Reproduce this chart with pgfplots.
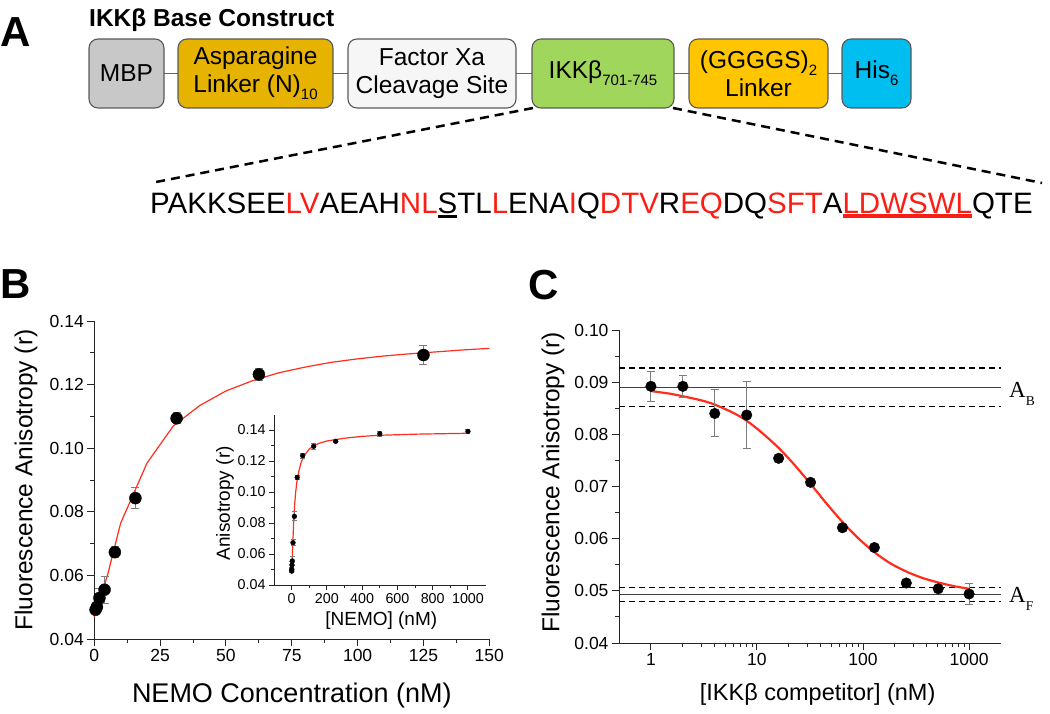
\documentclass[border=0pt]{standalone}
\usepackage{fontspec}
\setmainfont{Liberation Sans}
\newfontfamily\timesfont{Liberation Serif}
\usepackage{pgfplots}
\pgfplotsset{compat=1.18}
\usepackage{pgfplotstable}

\definecolor{fitred}{RGB}{255,45,30}
\definecolor{ebgray}{RGB}{125,125,125}
\definecolor{seqred}{RGB}{250,30,20}
\definecolor{mbpgray}{RGB}{200,200,200}
\definecolor{asngold}{RGB}{230,180,0}
\definecolor{fxawhite}{RGB}{246,246,246}
\definecolor{ikkgreen}{RGB}{160,214,92}
\definecolor{ggggsyel}{RGB}{255,198,0}
\definecolor{hiscyan}{RGB}{0,190,240}

\newcommand\fs[1]{\fontsize{#1}{#1}\selectfont}
\newcommand\sub[1]{\raisebox{-0.28em}{\fontsize{15}{15}\selectfont #1}}
% colour, raise, thickness, text
\newcommand\uline[4]{\setbox0\hbox{#4}\rlap{\color{#1}\rule[-#2]{\wd0}{#3}}\box0}

% NEMO titration (main panel B)
\pgfplotstableread{
x y e
0.49 0.0492 0.0010
0.98 0.0501 0.0012
1.95 0.0529 0.0030
3.9 0.0555 0.0042
7.8 0.0673 0.0018
15.6 0.0843 0.0033
31.25 0.1094 0.0017
62.5 0.1232 0.0019
125 0.1293 0.0030
}\nemomain

% full NEMO range (inset)
\pgfplotstableread{
x y e
0.49 0.0490 0.0008
0.98 0.0501 0.0010
1.95 0.0529 0.0020
3.9 0.0555 0.0030
7.8 0.0673 0.0018
15.6 0.0843 0.0030
31.25 0.1094 0.0015
62.5 0.1234 0.0015
125 0.1295 0.0020
250 0.1327 0.0010
500 0.1376 0.0015
1000 0.1391 0.0015
}\nemoinset

% competition (panel C)
\pgfplotstableread{
x y e
1 0.0892 0.0029
2 0.0892 0.0021
4 0.0840 0.0045
8 0.0837 0.0064
16 0.0754 0.0004
32 0.0708 0.0004
64 0.0621 0.0004
128 0.0583 0.0004
256 0.0515 0.0004
512 0.0504 0.0004
1000 0.0494 0.0021
}\compet

\pgfplotsset{
  /pgf/number format/assume math mode=true,
  /pgf/number format/1000 sep={},
  panel/.style={
    scale only axis, anchor=south west, clip=false,
    axis x line*=bottom, axis y line*=left,
    axis line style={-, line width=1pt, black!85},
    tick align=outside,
    major tick length=7pt, minor tick length=4pt,
    every tick/.style={black!85, line width=1pt},
    yticklabel style={/pgf/number format/.cd, fixed, fixed zerofill, precision=2},
  },
  ebars/.style={
    error bars/.cd, y dir=both, y explicit,
    error bar style={ebgray, line width=1pt},
    error mark options={rotate=90, ebgray, mark size=#1, line width=1pt},
  },
}

\begin{document}
\begin{tikzpicture}[x=1pt,y=1pt]
\useasboundingbox (0,0) rectangle (1050,713);

% ---------------- panel A ----------------
\node[anchor=base west, inner sep=0, font=\fs{42}\bfseries] at (0,666) {A};
\node[anchor=base west, inner sep=0, font=\fs{24.5}\bfseries] at (89,686) {IKKβ Base Construct};

\tikzset{blk/.style={draw=black!65, line width=1.1pt, rounded corners=9pt,
  minimum height=69pt, align=center, inner sep=0pt,
  font=\fontsize{24.5}{28}\selectfont}}
\draw[black!60, line width=1.2pt] (126,639.5) -- (876,639.5);
\node[blk, fill=mbpgray, minimum width=75pt] at (126.5,639.5) {MBP};
\node[blk, fill=asngold, minimum width=155pt] at (255.5,639.5) {Asparagine\\Linker (N)\sub{10}};
\node[blk, fill=fxawhite, minimum width=168pt] at (432,639.5) {Factor Xa\\Cleavage Site};
\node[blk, fill=ikkgreen, minimum width=142pt] at (603,639.5) {IKKβ\sub{701-745}};
\node[blk, fill=ggggsyel, minimum width=139pt] at (758.5,639.5) {(GGGGS)\sub{2}\\Linker};
\node[blk, fill=hiscyan, minimum width=69pt] at (876.5,639.5) {His\sub{6}};

\draw[black, line width=2.5pt, dash pattern=on 9pt off 6pt] (533,605) -- (151,530);
\draw[black, line width=2.5pt, dash pattern=on 9pt off 6pt] (673,605) -- (1042,530);

\node[anchor=base west, inner sep=0, font=\fs{29.5}] at (150,499)
 {PAKKSEE\textcolor{seqred}{LV}AEAH\textcolor{seqred}{NL}\uline{black}{4.5pt}{3pt}{S}TL\textcolor{seqred}{L}ENA\textcolor{seqred}{I}Q\textcolor{seqred}{DTV}R\textcolor{seqred}{EQ}DQ\textcolor{seqred}{SFT}A\uline{seqred}{4pt}{4pt}{\textcolor{seqred}{LDWSWL}}QTE};

% ---------------- panel B ----------------
\node[anchor=base west, inner sep=0, font=\fs{42}\bfseries] at (0,414) {B};

\begin{axis}[panel,
  at={(94.3pt,74pt)}, width=395pt, height=318pt,
  xmin=0, xmax=150, ymin=0.04, ymax=0.14,
  xtick={0,25,50,75,100,125,150},
  ytick={0.04,0.06,0.08,0.10,0.12,0.14},
  minor x tick num=1, minor y tick num=1,
  tick label style={font=\fs{17.5}},
  xlabel={NEMO Concentration (nM)},
  ylabel={Fluorescence Anisotropy (r)},
  xlabel style={at={(axis description cs:0.5,-0.2)}, anchor=base, font=\fs{27}},
  ylabel style={at={(axis description cs:-0.157,0.5)}, anchor=base, font=\fs{24.5}},
]
\addplot[fitred, line width=1.2pt] coordinates {
  (0,0.0470) (5,0.0600) (10,0.0764) (20,0.0953) (30,0.1070) (40,0.1134)
  (50,0.1180) (60,0.1212) (70,0.1237) (80,0.1255) (90,0.1270) (100,0.1281)
  (110,0.1290) (120,0.1297) (130,0.1303) (140,0.1309) (150,0.1314)};
\addplot[only marks, mark=*, mark size=6pt, black, ebars=4pt]
  table[x=x, y=y, y error=e] {\nemomain};
\end{axis}

\begin{axis}[panel,
  at={(274pt,128pt)}, width=211.6pt, height=170.5pt,
  xmin=-100, xmax=1100, ymin=0.04, ymax=0.15,
  xtick={0,200,400,600,800,1000},
  ytick={0.04,0.06,0.08,0.10,0.12,0.14},
  minor x tick num=1, minor y tick num=1,
  major tick length=5pt, minor tick length=3pt,
  tick label style={font=\fs{14.3}},
  xlabel={[NEMO] (nM)},
  ylabel={Anisotropy (r)},
  xlabel style={at={(axis description cs:0.507,-0.235)}, anchor=base, font=\fs{19}},
  ylabel style={at={(axis description cs:-0.208,0.479)}, anchor=base, font=\fs{19}},
]
\addplot[fitred, line width=1.2pt] coordinates {
  (0,0.0470) (4,0.0580) (8,0.0705) (12,0.0820) (17,0.0916) (22,0.0990)
  (30,0.1067) (40,0.1130) (55,0.1195) (75,0.1240) (100,0.1278) (150,0.1312)
  (200,0.1329) (300,0.1347) (400,0.1359) (500,0.1366) (700,0.1373) (1000,0.1379)};
\addplot[only marks, mark=*, mark size=2.4pt, black, ebars=2.5pt]
  table[x=x, y=y, y error=e] {\nemoinset};
\end{axis}

% ---------------- panel C ----------------
\node[anchor=base west, inner sep=0, font=\fs{42}\bfseries] at (528,413) {C};

\begin{axis}[panel,
  at={(619pt,70pt)}, width=382pt, height=313pt,
  xmode=log, xmin=0.5, xmax=2000, ymin=0.04, ymax=0.10,
  xtick={1,10,100,1000}, xticklabels={1,10,100,1000},
  ytick={0.04,0.05,0.06,0.07,0.08,0.09,0.10},
  minor y tick num=1,
  tick label style={font=\fs{17.5}},
  xlabel={[IKKβ competitor] (nM)},
  ylabel={Fluorescence Anisotropy (r)},
  xlabel style={at={(axis description cs:0.52,-0.185)}, anchor=base, font=\fs{23.5}},
  ylabel style={at={(axis description cs:-0.156,0.513)}, anchor=base, font=\fs{24.5}},
]
\addplot[black!75, line width=1.5pt] coordinates {(0.5,0.0890) (2000,0.0890)};
\addplot[black, line width=1.3pt, dash pattern=on 6pt off 4pt] coordinates {(0.5,0.0927) (2000,0.0927)};
\addplot[black, line width=1.3pt, dash pattern=on 6pt off 4pt] coordinates {(0.5,0.0853) (2000,0.0853)};
\addplot[black!75, line width=1.5pt] coordinates {(0.5,0.0493) (2000,0.0493)};
\addplot[black, line width=1.3pt, dash pattern=on 6pt off 4pt] coordinates {(0.5,0.0506) (2000,0.0506)};
\addplot[black, line width=1.3pt, dash pattern=on 6pt off 4pt] coordinates {(0.5,0.0479) (2000,0.0479)};
\addplot[fitred, line width=2.2pt, smooth] coordinates {
  (1,0.0883) (1.5,0.0878) (2,0.0873) (3,0.0865) (4,0.0857) (6,0.0841)
  (8,0.0826) (11,0.0804) (16,0.0774) (22,0.0744) (32,0.0705) (45,0.0668)
  (64,0.0632) (90,0.0601) (128,0.0574) (180,0.0553) (256,0.0537)
  (360,0.0525) (512,0.0516) (720,0.0509) (1000,0.0504)};
\addplot[only marks, mark=*, mark size=5.3pt, black, ebars=4pt]
  table[x=x, y=y, y error=e] {\compet};
\node[anchor=base west, inner sep=0, xshift=8pt, yshift=-10.6pt, font=\timesfont\fs{23}]
  at (axis cs:2000,0.0890) {A\raisebox{-8pt}{\fs{13.5}B}};
\node[anchor=base west, inner sep=0, xshift=8pt, yshift=-8.5pt, font=\timesfont\fs{23}]
  at (axis cs:2000,0.0493) {A\raisebox{-8pt}{\fs{13.5}F}};
\end{axis}
\end{tikzpicture}
\end{document}
